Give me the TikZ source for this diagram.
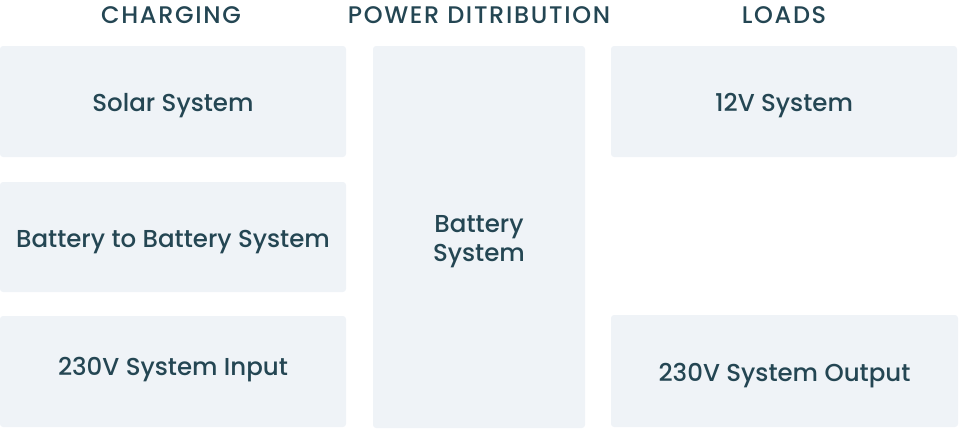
\documentclass[tikz,border=0pt]{standalone}
\usepackage{fontspec}
\setmainfont{Poppins}[UprightFont=* Medium, BoldFont=* SemiBold]
\usepackage{tikz}
\usetikzlibrary{positioning}
\definecolor{inktext}{HTML}{244653}
\definecolor{panelfill}{HTML}{EFF3F7}
\begin{document}
\begin{tikzpicture}[x=1pt, y=-1pt,
        panel/.style={rectangle, fill=panelfill, rounded corners=3pt, inner sep=0pt, align=center, text=inktext, text height=20pt, text depth=0pt, font=\fontsize{24.5}{29}\selectfont},
        header/.style={text=inktext, font=\fontsize{24}{24}\selectfont\addfontfeature{LetterSpace=7}, inner sep=0pt}
    ]
        \useasboundingbox (0,0) rectangle (965,429);
        % Column headers
        \node[header] (charging) at (171, 15) {CHARGING};
        \node[header] (distribution) at (479, 15) {POWER DITRIBUTION};
        \node[header] (loads) at (784, 15) {LOADS};

        % Charging sources
        \node[panel, minimum width=346pt, minimum height=111pt] (solar) at (173, 101.5) {Solar System};
        \node[panel, minimum width=346pt, minimum height=110pt] (btob) at (173, 237) {Battery to Battery System};
        \node[panel, minimum width=346pt, minimum height=111pt] (acin) at (173, 371.5) {\raisebox{6.5pt}{230V System Input}};

        % Distribution
        \node[panel, text height=48pt, minimum width=212pt, minimum height=382pt] (battery) at (479, 237) {Battery\\System};

        % Loads
        \node[panel, minimum width=346pt, minimum height=111pt] (dc) at (784, 101.5) {12V System};
        \node[panel, minimum width=347pt, minimum height=112pt] (acout) at (784.5, 371) {230V System Output};
    \end{tikzpicture}
\end{document}
